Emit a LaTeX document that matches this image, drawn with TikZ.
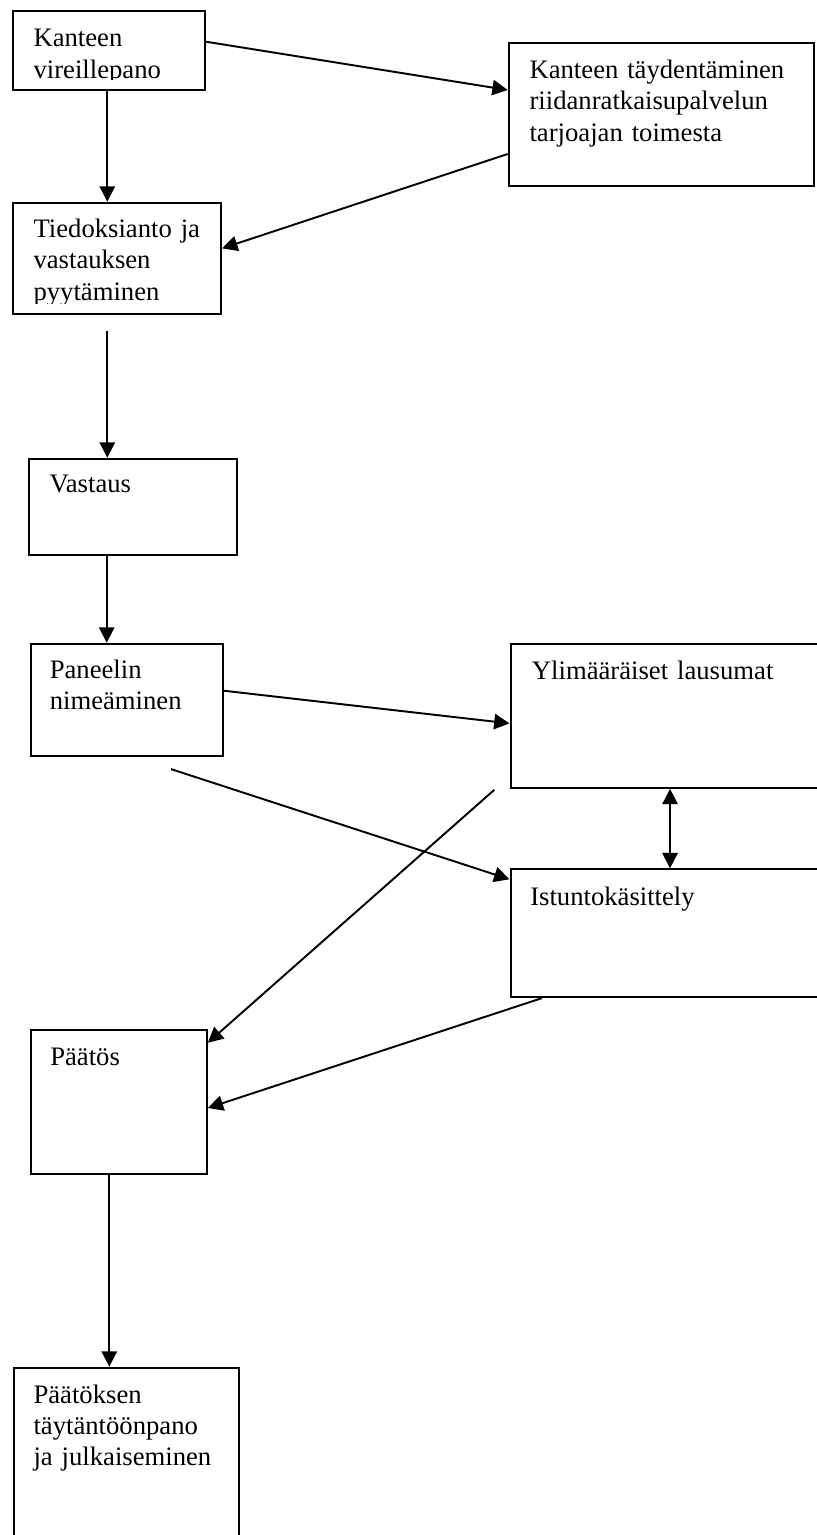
\documentclass[tikz,border=0pt]{standalone}
\usepackage{fontspec}
\setmainfont{Liberation Serif}
\usetikzlibrary{arrows.meta}
\begin{document}
\begin{tikzpicture}[x=0.75pt,y=-0.75pt,
  box/.style={draw, line width=1.6pt, rectangle, anchor=north west, inner sep=0pt},
  txt/.style={anchor=base west, inner sep=0pt, text width=260pt, align=left,
    font={\fontsize{20}{23.6}\selectfont}},
  arr/.style={-{Triangle[length=11.5pt,width=11.5pt]}, line width=1.45pt},
  dblarr/.style={{Triangle[length=11.5pt,width=11.5pt]}-{Triangle[length=11.5pt,width=11.5pt]}, line width=1.45pt}]
\useasboundingbox (0,0) rectangle (817,1535);
\clip (0,0) rectangle (817,1535);
% boxes
\node[box, minimum width=143.78pt, minimum height=59.48pt] (b1) at (12.3,10) {};
\node[box, minimum width=228.75pt, minimum height=107.25pt] (b2) at (507.7,42) {};
\node[box, minimum width=155.78pt, minimum height=83.7pt] (b3) at (12.3,201.7) {};
\node[box, minimum width=156.2pt, minimum height=72.2pt] (b4) at (27.7,457.7) {};
\node[box, minimum width=143.85pt, minimum height=84.2pt] (b5) at (29.7,642.7) {};
\node[box, minimum width=255pt, minimum height=108pt] (b6) at (509.5,642.7) {};
\node[box, minimum width=255pt, minimum height=95.8pt] (b7) at (509.5,868.3) {};
\node[box, minimum width=132pt, minimum height=108pt] (b8) at (29.7,1029) {};
\node[box, minimum width=168.5pt, minimum height=150pt] (b9) at (13.3,1366.7) {};
% texts
\begin{scope}
  \clip (12,10) rectangle (205,79.3);
  \node[txt] (t1) at (33.3,46.7) {Kanteen\\vireillepano};
\end{scope}
\node[txt] (t2) at (529.3,78.3) {Kanteen täydentäminen\\riidanratkaisupalvelun\\tarjoajan toimesta};
\begin{scope}
  \clip (12,201) rectangle (221,303);
  \node[txt] (t3) at (33.3,237.3) {Tiedoksianto ja\\vastauksen\\pyytäminen};
\end{scope}
\node[txt] (t4) at (49.3,492.7) {Vastaus};
\node[txt] (t5) at (49.5,678) {Paneelin\\nimeäminen};
\node[txt] (t6) at (531.7,679.3) {Ylimääräiset lausumat};
\node[txt] (t7) at (530,905) {Istuntokäsittely};
\node[txt] (t8) at (50,1065.7) {Päätös};
\node[txt] (t9) at (33.3,1403) {Päätöksen\\täytäntöönpano\\ja julkaiseminen};
% connectors
\draw[arr] ([xshift=71.25pt]b1.south west) -- ([xshift=71.25pt]b3.north west);
\draw[arr] ([yshift=-23.8pt]b1.north east) -- ([yshift=-36pt]b2.north west);
\draw[arr] ([yshift=-84pt]b2.north west) -- ([yshift=-35pt]b3.north east);
\draw[arr] ([xshift=71.25pt,yshift=-11.8pt]b3.south west) -- ([xshift=59.7pt]b4.north west);
\draw[arr] ([xshift=59.25pt]b4.south west) -- ([xshift=57.75pt]b5.north west);
\draw[arr] ([yshift=-36pt]b5.north east) -- ([yshift=-60.5pt]b6.north west);
\draw[arr] ([xshift=106pt,yshift=-9pt]b5.south west) -- ([yshift=-8.25pt]b7.north west);
\draw[arr] ([xshift=-11.4pt,yshift=-0.75pt]b6.south west) -- ([yshift=-10.3pt]b8.north east);
\draw[arr] ([xshift=24.2pt]b7.south west) -- ([yshift=-59.25pt]b8.north east);
\draw[dblarr] ([xshift=120.4pt]b6.south west) -- ([xshift=120.4pt]b7.north west);
\draw[arr] ([xshift=59.7pt]b8.south west) -- ([xshift=72pt]b9.north west);
\end{tikzpicture}
\end{document}
